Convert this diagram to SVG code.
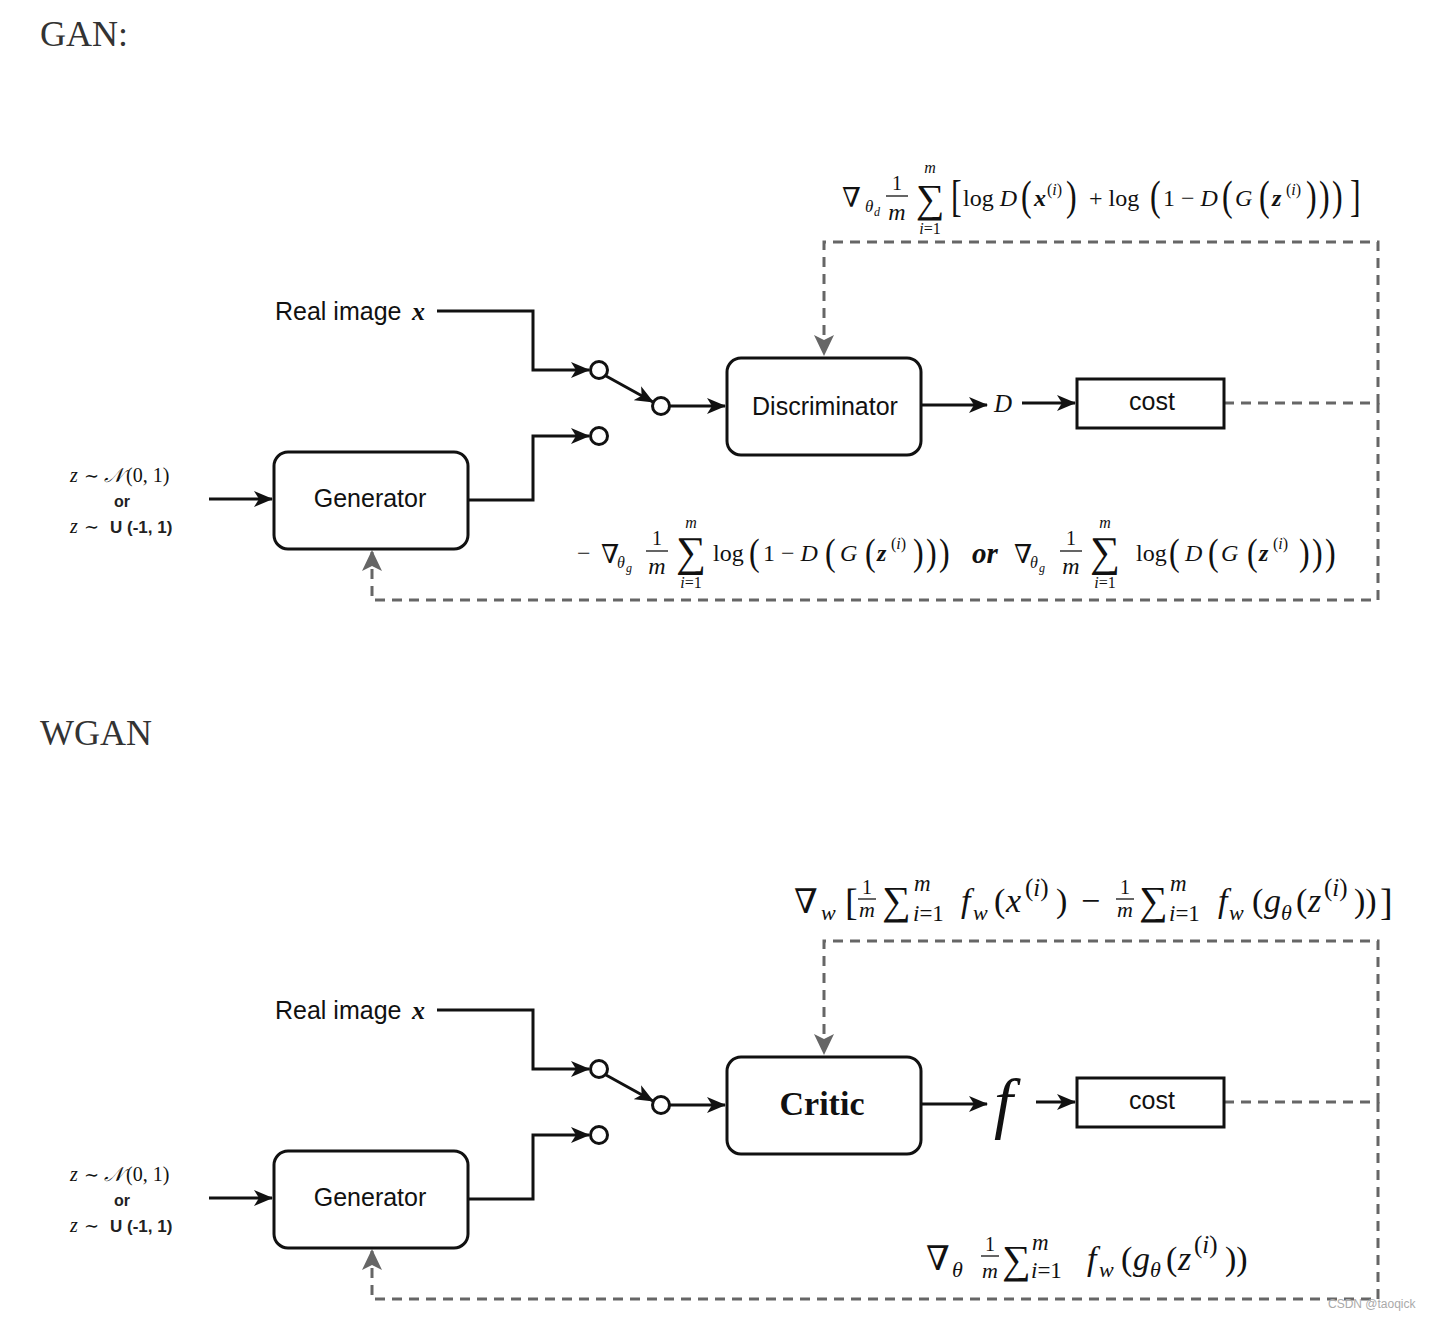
<svg xmlns="http://www.w3.org/2000/svg" width="1432" height="1320" viewBox="0 0 1432 1320">
<style>
.hd{font-family:"Liberation Serif","DejaVu Serif",serif;font-size:36px;fill:#333}
.lbl{font-family:"Liberation Sans",Arial,sans-serif;font-size:25px;fill:#111}
.sb{font-family:"Liberation Sans",Arial,sans-serif;font-weight:bold;fill:#222}
.box{fill:#fff;stroke:#111;stroke-width:3}
.wire{fill:none;stroke:#111;stroke-width:3}
.dash{fill:none;stroke:#666;stroke-width:3;stroke-dasharray:10 7}
.sw{fill:#fff;stroke:#111;stroke-width:3}
.m{font-family:"Liberation Serif","DejaVu Serif",serif;fill:#111}
.i{font-style:italic}
.bi{font-style:italic;font-weight:bold}
.wm{font-family:"Liberation Sans",Arial,sans-serif;font-size:12px;fill:#aaa}
</style>
<defs>
<marker id="ah" markerUnits="userSpaceOnUse" markerWidth="20" markerHeight="16" refX="18" refY="8" orient="auto"><path d="M0,0 L19,8 L0,16 L5,8 z" fill="#111"/></marker>
<marker id="ahg" markerUnits="userSpaceOnUse" markerWidth="22" markerHeight="20" refX="20" refY="10" orient="auto"><path d="M0,0 L21,10 L0,20 L5,10 z" fill="#666"/></marker>
</defs>
<rect width="1432" height="1320" fill="#fff"/>

<!-- ================= GAN ================= -->
<text id="gan-title" class="hd" x="40" y="46">GAN:</text>

<g id="gan-connectors">
  <path class="wire" d="M437,311 H533 V370 H589" marker-end="url(#ah)"/>
  <path class="wire" d="M606,376 L653,402" marker-end="url(#ah)"/>
  <path class="wire" d="M670,406 H725" marker-end="url(#ah)"/>
  <path class="wire" d="M468,500 H533 V436 H589" marker-end="url(#ah)"/>
  <path class="wire" d="M209,499 H272" marker-end="url(#ah)"/>
  <path class="wire" d="M921,405 H987" marker-end="url(#ah)"/>
  <path class="wire" d="M1022,403 H1075" marker-end="url(#ah)"/>
  <path class="dash" d="M1224,403 H1378 V242 H824 V355" marker-end="url(#ahg)"/>
  <path class="dash" d="M1378,403 V600 H372 V551" marker-end="url(#ahg)"/>
</g>

<g id="gan-input">
  <text class="m" y="482" font-size="20"><tspan class="i" x="70">z</tspan><tspan x="84" font-size="18">∼</tspan><tspan class="i" x="104">𝒩</tspan><tspan x="126">(0, 1)</tspan></text>
  <text class="sb" x="122" y="507" font-size="16" text-anchor="middle">or</text>
  <text class="m" y="533" font-size="20"><tspan class="i" x="70">z</tspan><tspan x="84" font-size="18">∼</tspan></text>
  <text class="sb" x="110" y="533" font-size="17">U (-1, 1)</text>
</g>
<g id="gan-real">
  <text class="lbl" x="275" y="320">Real image</text>
  <text class="m bi" x="412" y="320" font-size="26">x</text>
</g>
<g id="gan-switch">
  <circle class="sw" cx="599" cy="370" r="8.5"/>
  <circle class="sw" cx="661" cy="406" r="8.5"/>
  <circle class="sw" cx="599" cy="436" r="8.5"/>
</g>
<g id="gan-generator">
  <rect class="box" x="274" y="452" width="194" height="97" rx="14"/>
  <text class="lbl" x="370" y="507" text-anchor="middle">Generator</text>
</g>
<g id="gan-discriminator">
  <rect class="box" x="727" y="358" width="194" height="97" rx="14"/>
  <text class="lbl" x="825" y="415" text-anchor="middle">Discriminator</text>
</g>
<g id="gan-D">
  <text class="m i" x="994" y="412" font-size="25">D</text>
</g>
<g id="gan-cost">
  <rect class="box" x="1077" y="379" width="147" height="49"/>
  <text class="lbl" x="1152" y="410" text-anchor="middle">cost</text>
</g>

<g id="gan-formula-d" class="m">
  <text x="842" y="207" font-size="27">∇</text>
  <text class="i" x="865" y="212" font-size="17">θ</text>
  <text class="i" x="874" y="216" font-size="12">d</text>
  <text x="897" y="190" font-size="20" text-anchor="middle">1</text>
  <line x1="886" y1="196" x2="908" y2="196" stroke="#111" stroke-width="1.3"/>
  <text class="i" x="897" y="220" font-size="24" text-anchor="middle">m</text>
  <text class="i" x="930" y="173" font-size="16" text-anchor="middle">m</text>
  <text x="930" y="212" font-size="40" text-anchor="middle">∑</text>
  <text x="930" y="234" font-size="16" text-anchor="middle"><tspan class="i">i</tspan>=1</text>
  <text transform="translate(951,211) scale(1,1.4)" font-size="32">[</text>
  <text x="963" y="206" font-size="24">log <tspan class="i">D</tspan></text>
  <text transform="translate(1021,210) scale(1,1.3)" font-size="32">(</text>
  <text class="bi" x="1034" y="206" font-size="24">x</text>
  <text x="1047" y="195" font-size="16">(<tspan class="i">i</tspan>)</text>
  <text transform="translate(1066,210) scale(1,1.3)" font-size="32">)</text>
  <text x="1089" y="206" font-size="24">+ log</text>
  <text transform="translate(1150,210) scale(1,1.3)" font-size="32">(</text>
  <text x="1163" y="206" font-size="24">1 − <tspan class="i">D</tspan></text>
  <text transform="translate(1222,210) scale(1,1.3)" font-size="32">(</text>
  <text class="i" x="1235" y="206" font-size="24">G</text>
  <text transform="translate(1259,210) scale(1,1.3)" font-size="32">(</text>
  <text class="bi" x="1272" y="206" font-size="24">z</text>
  <text x="1286" y="195" font-size="16">(<tspan class="i">i</tspan>)</text>
  <text transform="translate(1306,210) scale(1,1.3)" font-size="32">)</text>
  <text transform="translate(1319,210) scale(1,1.3)" font-size="32">)</text>
  <text transform="translate(1332,210) scale(1,1.3)" font-size="32">)</text>
  <text transform="translate(1350,211) scale(1,1.4)" font-size="32">]</text>
</g>

<g id="gan-formula-g" class="m">
  <text x="577" y="561" font-size="24">−</text>
  <text x="601" y="563" font-size="26">∇</text>
  <text class="i" x="617" y="568" font-size="16">θ</text>
  <text class="i" x="626" y="572" font-size="12">g</text>
  <text x="657" y="545" font-size="20" text-anchor="middle">1</text>
  <line x1="646" y1="551" x2="668" y2="551" stroke="#111" stroke-width="1.3"/>
  <text class="i" x="657" y="574" font-size="24" text-anchor="middle">m</text>
  <text class="i" x="691" y="528" font-size="16" text-anchor="middle">m</text>
  <text x="691" y="566" font-size="42" text-anchor="middle">∑</text>
  <text x="691" y="588" font-size="16" text-anchor="middle"><tspan class="i">i</tspan>=1</text>
  <text x="713" y="561" font-size="24">log</text>
  <text transform="translate(749,565) scale(1,1.2)" font-size="32">(</text>
  <text x="763" y="561" font-size="24">1 − <tspan class="i">D</tspan></text>
  <text transform="translate(825,565) scale(1,1.2)" font-size="32">(</text>
  <text class="i" x="840" y="561" font-size="24">G</text>
  <text transform="translate(865,565) scale(1,1.2)" font-size="32">(</text>
  <text class="bi" x="877" y="561" font-size="24">z</text>
  <text x="891" y="549" font-size="16">(<tspan class="i">i</tspan>)</text>
  <text transform="translate(913,565) scale(1,1.2)" font-size="32">)</text>
  <text transform="translate(926,565) scale(1,1.2)" font-size="32">)</text>
  <text transform="translate(939,565) scale(1,1.2)" font-size="32">)</text>
  <text class="bi" x="972" y="563" font-size="29">or</text>
  <text x="1014" y="563" font-size="26">∇</text>
  <text class="i" x="1030" y="568" font-size="16">θ</text>
  <text class="i" x="1039" y="572" font-size="12">g</text>
  <text x="1071" y="545" font-size="20" text-anchor="middle">1</text>
  <line x1="1060" y1="551" x2="1082" y2="551" stroke="#111" stroke-width="1.3"/>
  <text class="i" x="1071" y="574" font-size="24" text-anchor="middle">m</text>
  <text class="i" x="1105" y="528" font-size="16" text-anchor="middle">m</text>
  <text x="1105" y="566" font-size="42" text-anchor="middle">∑</text>
  <text x="1105" y="588" font-size="16" text-anchor="middle"><tspan class="i">i</tspan>=1</text>
  <text x="1136" y="561" font-size="24">log</text>
  <text transform="translate(1169,565) scale(1,1.2)" font-size="32">(</text>
  <text class="i" x="1185" y="561" font-size="24">D</text>
  <text transform="translate(1208,565) scale(1,1.2)" font-size="32">(</text>
  <text class="i" x="1221" y="561" font-size="24">G</text>
  <text transform="translate(1247,565) scale(1,1.2)" font-size="32">(</text>
  <text class="bi" x="1259" y="561" font-size="24">z</text>
  <text x="1273" y="549" font-size="16">(<tspan class="i">i</tspan>)</text>
  <text transform="translate(1299,565) scale(1,1.2)" font-size="32">)</text>
  <text transform="translate(1312,565) scale(1,1.2)" font-size="32">)</text>
  <text transform="translate(1325,565) scale(1,1.2)" font-size="32">)</text>
</g>

<!-- ================= WGAN ================= -->
<text id="wgan-title" class="hd" x="40" y="745">WGAN</text>

<g id="wgan-connectors">
  <path class="wire" d="M437,1010 H533 V1069 H589" marker-end="url(#ah)"/>
  <path class="wire" d="M606,1075 L653,1101" marker-end="url(#ah)"/>
  <path class="wire" d="M670,1105 H725" marker-end="url(#ah)"/>
  <path class="wire" d="M468,1199 H533 V1135 H589" marker-end="url(#ah)"/>
  <path class="wire" d="M209,1198 H272" marker-end="url(#ah)"/>
  <path class="wire" d="M921,1104 H987" marker-end="url(#ah)"/>
  <path class="wire" d="M1036,1102 H1075" marker-end="url(#ah)"/>
  <path class="dash" d="M1224,1102 H1378 V941 H824 V1054" marker-end="url(#ahg)"/>
  <path class="dash" d="M1378,1102 V1299 H372 V1250" marker-end="url(#ahg)"/>
</g>

<g id="wgan-input">
  <text class="m" y="1181" font-size="20"><tspan class="i" x="70">z</tspan><tspan x="84" font-size="18">∼</tspan><tspan class="i" x="104">𝒩</tspan><tspan x="126">(0, 1)</tspan></text>
  <text class="sb" x="122" y="1206" font-size="16" text-anchor="middle">or</text>
  <text class="m" y="1232" font-size="20"><tspan class="i" x="70">z</tspan><tspan x="84" font-size="18">∼</tspan></text>
  <text class="sb" x="110" y="1232" font-size="17">U (-1, 1)</text>
</g>
<g id="wgan-real">
  <text class="lbl" x="275" y="1019">Real image</text>
  <text class="m bi" x="412" y="1019" font-size="26">x</text>
</g>
<g id="wgan-switch">
  <circle class="sw" cx="599" cy="1069" r="8.5"/>
  <circle class="sw" cx="661" cy="1105" r="8.5"/>
  <circle class="sw" cx="599" cy="1135" r="8.5"/>
</g>
<g id="wgan-generator">
  <rect class="box" x="274" y="1151" width="194" height="97" rx="14"/>
  <text class="lbl" x="370" y="1206" text-anchor="middle">Generator</text>
</g>
<g id="wgan-critic">
  <rect class="box" x="727" y="1057" width="194" height="97" rx="14"/>
  <text class="m" x="822" y="1115" font-size="34" font-weight="bold" text-anchor="middle">Critic</text>
</g>
<g id="wgan-f">
  <text class="m i" x="994" y="1126" font-size="68">f</text>
</g>
<g id="wgan-cost">
  <rect class="box" x="1077" y="1078" width="147" height="49"/>
  <text class="lbl" x="1152" y="1109" text-anchor="middle">cost</text>
</g>

<g id="wgan-formula-w" class="m">
  <text x="794" y="913" font-size="34">∇</text>
  <text class="i" x="821" y="920" font-size="22">w</text>
  <text x="845" y="915" font-size="38">[</text>
  <text x="867" y="894" font-size="20" text-anchor="middle">1</text>
  <line x1="858" y1="899" x2="876" y2="899" stroke="#111" stroke-width="1.3"/>
  <text class="i" x="867" y="917" font-size="22" text-anchor="middle">m</text>
  <text x="882" y="914" font-size="40">∑</text>
  <text class="i" x="914" y="891" font-size="23">m</text>
  <text x="913" y="921" font-size="23"><tspan class="i">i</tspan>=1</text>
  <text class="i" x="961" y="912" font-size="34">f</text>
  <text class="i" x="973" y="920" font-size="22">w</text>
  <text x="994" y="912" font-size="34">(</text>
  <text class="i" x="1006" y="912" font-size="34">x</text>
  <text x="1025" y="896" font-size="25">(<tspan class="i">i</tspan>)</text>
  <text x="1056" y="912" font-size="34">)</text>
  <text x="1081" y="912" font-size="34">−</text>
  <text x="1125" y="894" font-size="20" text-anchor="middle">1</text>
  <line x1="1116" y1="899" x2="1134" y2="899" stroke="#111" stroke-width="1.3"/>
  <text class="i" x="1125" y="917" font-size="22" text-anchor="middle">m</text>
  <text x="1139" y="914" font-size="40">∑</text>
  <text class="i" x="1170" y="891" font-size="23">m</text>
  <text x="1169" y="921" font-size="23"><tspan class="i">i</tspan>=1</text>
  <text class="i" x="1218" y="912" font-size="34">f</text>
  <text class="i" x="1229" y="920" font-size="22">w</text>
  <text x="1252" y="912" font-size="34">(</text>
  <text class="i" x="1264" y="912" font-size="34">g</text>
  <text class="i" x="1281" y="920" font-size="22">θ</text>
  <text x="1296" y="912" font-size="34">(</text>
  <text class="i" x="1308" y="912" font-size="34">z</text>
  <text x="1324" y="896" font-size="25">(<tspan class="i">i</tspan>)</text>
  <text x="1354" y="912" font-size="34">))</text>
  <text x="1380" y="915" font-size="38">]</text>
</g>

<g id="wgan-formula-g" class="m">
  <text x="926" y="1270" font-size="34">∇</text>
  <text class="i" x="952" y="1277" font-size="22">θ</text>
  <text x="990" y="1251" font-size="20" text-anchor="middle">1</text>
  <line x1="981" y1="1256" x2="999" y2="1256" stroke="#111" stroke-width="1.3"/>
  <text class="i" x="990" y="1278" font-size="22" text-anchor="middle">m</text>
  <text x="1002" y="1273" font-size="40">∑</text>
  <text class="i" x="1032" y="1250" font-size="23">m</text>
  <text x="1031" y="1278" font-size="23"><tspan class="i">i</tspan>=1</text>
  <text class="i" x="1087" y="1270" font-size="34">f</text>
  <text class="i" x="1099" y="1277" font-size="22">w</text>
  <text x="1121" y="1270" font-size="34">(</text>
  <text class="i" x="1133" y="1270" font-size="34">g</text>
  <text class="i" x="1150" y="1277" font-size="22">θ</text>
  <text x="1166" y="1270" font-size="34">(</text>
  <text class="i" x="1178" y="1270" font-size="34">z</text>
  <text x="1194" y="1253" font-size="25">(<tspan class="i">i</tspan>)</text>
  <text x="1225" y="1270" font-size="34">))</text>
</g>

<text id="watermark" class="wm" x="1328" y="1308">CSDN @taoqick</text>
</svg>
